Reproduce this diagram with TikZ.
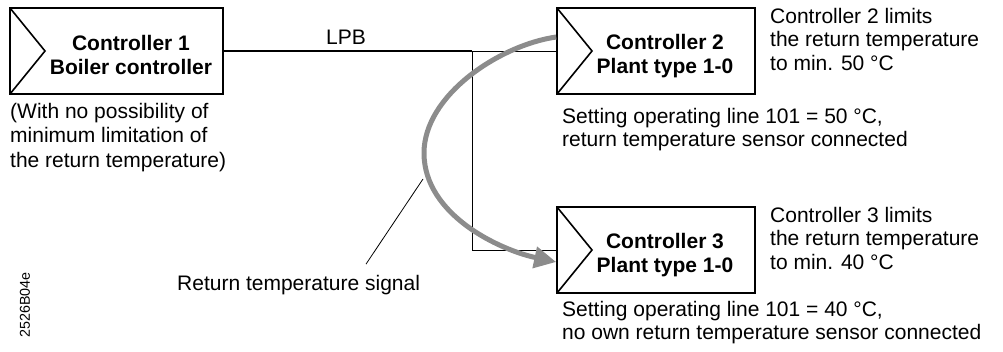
\documentclass[tikz,border=0pt]{standalone}
\usepackage{fontspec}
\setmainfont{Liberation Sans}
\usetikzlibrary{arrows.meta}
\definecolor{signalgrey}{RGB}{140,140,140}
\begin{document}
\begin{tikzpicture}[x=1pt,y=-1pt]
\tikzstyle{regler} = [draw,rectangle,line width=1.6pt,inner sep=0pt,minimum width=198pt,minimum height=86pt,
  path picture={\draw[line width=1.6pt] (path picture bounding box.north west) -- ([xshift=35pt]path picture bounding box.west) -- (path picture bounding box.south west);}];
\tikzstyle{titel} = [font=\bfseries\fontsize{21}{24}\selectfont,align=center,inner sep=0pt,anchor=base];
\tikzstyle{notiz} = [font=\fontsize{21}{23.5}\selectfont,align=left,inner sep=0pt,anchor=base west];

\useasboundingbox (0,0) rectangle (1003,351);

\node[regler,minimum width=213pt] (c1) at (116.5,51) {};
\node[titel] (t1) at ([xshift=14.5pt,yshift=-23.5pt]c1.center) {Controller 1\\Boiler controller};
\node[notiz,font=\fontsize{21}{24.5}\selectfont] (n1) at (10,167) {(With no possibility of\\minimum limitation of\\the return temperature)};

\foreach \n/\y/\t in {2/51/50,3/250/40}{
	\node[regler] (c\n) at (656,\y) {};
	\node[titel] (t\n) at ([xshift=9pt,yshift=-22.5pt]c\n.center) {Controller \n\\Plant type 1-0};
	\node[notiz] (l\n) at (770,\y+19) {Controller \n\ limits\\the return temperature\\to min. \t~°C};
}
\node[notiz] (s2) at (562,146.5) {Setting operating line 101 = 50 °C,\\return temperature sensor connected};
\node[notiz] (s3) at (562,339.5) {Setting operating line 101 = 40 °C,\\no own return temperature sensor connected};

% LPB
\coordinate (b1) at (472,51);
\coordinate (b2) at (472,250);
\draw[line width=1.8pt] (c1.east) -- (b1);
\draw[line width=0.9pt] (b1) -- (c2.west);
\draw[line width=0.9pt] (b1) -- (b2) -- (c3.west);
\node[notiz,anchor=base] (lpb) at (346,44) {LPB};

\draw[signalgrey,line width=5pt,-{Triangle[length=22pt,width=21pt]}] ([yshift=14pt]c2.west) .. controls (500,45) and (424,95) .. (424,153) .. controls (424,215) and (500,250) .. ([yshift=-12pt]c3.west);

\coordinate (sigpt) at (423,179);
\node[notiz] (sig) at (177,290) {Return temperature signal};
\draw[line width=0.8pt] (sigpt) -- ([xshift=189pt,yshift=10.5pt]sig.north west);

\node[rotate=90,font=\fontsize{14.3}{16}\selectfont,inner sep=0pt] (code) at (25,305) {2526B04e};

\end{tikzpicture}
\end{document}
